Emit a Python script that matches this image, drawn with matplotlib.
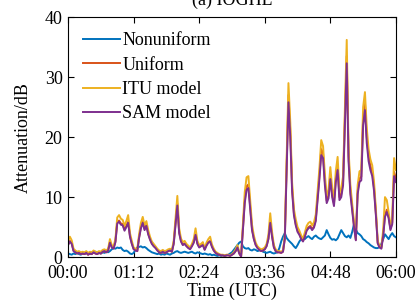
import numpy as np
import matplotlib
matplotlib.use('Agg')
import matplotlib.pyplot as plt

# time in minutes after 00:00 UTC, 2-minute steps
minutes = np.arange(0, 362, 2)

nonuniform = [
  0.6, 0.5, 0.4, 0.6, 0.5, 0.7, 0.5, 0.4, 0.6, 0.5, 0.7, 0.6, 0.5, 0.8, 0.7, 0.9, 0.8, 0.7, 0.6, 0.8,
  0.7, 0.9, 0.8, 1.0, 1.3, 1.5, 1.4, 1.6, 1.5, 1.6, 1.2, 1.0, 1.1, 0.9, 0.6, 0.5, 0.7, 1.2, 1.6, 1.7,
  1.8, 1.6, 1.7, 1.5, 1.2, 1.0, 0.8, 0.7, 0.6, 0.5, 0.6, 0.4, 0.5, 0.4, 0.6, 0.5, 0.4, 0.6, 0.7, 0.9,
  1.0, 0.8, 0.7, 0.8, 0.9, 0.8, 0.7, 0.8, 0.9, 0.7, 0.6, 0.8, 0.7, 0.6, 0.5, 0.6, 0.5, 0.4, 0.5, 0.3,
  0.4, 0.3, 0.2, 0.3, 0.2, 0.3, 0.2, 0.3, 0.4, 0.6, 0.8, 1.2, 1.6, 2.0, 2.4, 2.6, 1.8, 1.5, 1.4, 1.5,
  1.2, 1.1, 1.3, 1.2, 1.0, 1.1, 1.2, 0.9, 0.8, 0.7, 0.8, 0.9, 0.7, 0.6, 0.7, 0.8, 1.5, 2.6, 3.4, 4.0,
  3.2, 2.8, 2.5, 2.2, 1.8, 1.5, 2.0, 2.6, 3.0, 3.2, 3.0, 3.3, 3.5, 3.2, 3.0, 3.4, 3.6, 3.3, 3.1, 3.0,
  3.3, 3.6, 4.5, 3.8, 3.2, 2.9, 3.0, 2.8, 3.1, 3.8, 4.5, 4.0, 3.5, 3.3, 3.6, 3.2, 4.2, 5.5, 4.6, 4.0,
  3.8, 3.5, 3.0, 2.8, 2.5, 2.3, 2.0, 1.8, 1.6, 1.5, 1.5, 1.7, 2.2, 3.0, 3.8, 3.4, 3.0, 3.6, 4.0, 3.5,
  3.3]

uniform = [
  2.1, 2.7, 2.3, 1.1, 0.8, 0.6, 0.7, 0.5, 0.6, 0.5, 0.7, 0.4, 0.6, 0.5, 0.8, 0.6, 0.5, 0.7, 0.6, 0.9,
  1.0, 0.8, 1.1, 2.5, 1.7, 1.5, 2.6, 5.8, 6.1, 5.6, 5.5, 4.6, 5.2, 5.9, 3.5, 2.3, 1.4, 1.2, 1.0, 3.3,
  5.0, 5.9, 4.7, 5.4, 3.9, 3.0, 2.3, 1.9, 1.6, 1.2, 0.8, 0.7, 0.9, 0.7, 0.8, 1.0, 1.1, 0.9, 2.3, 5.7,
  8.9, 4.2, 2.7, 2.1, 2.3, 1.9, 1.6, 1.4, 1.9, 2.5, 3.9, 2.3, 1.7, 1.9, 2.1, 1.3, 2.0, 2.5, 2.7, 1.8,
  1.1, 0.7, 0.5, 0.4, 0.3, 0.3, 0.2, 0.3, 0.3, 0.2, 0.4, 0.6, 1.0, 1.7, 0.6, 0.1, 4.7, 9.4, 11.8, 12.1,
  8.4, 4.7, 3.1, 2.1, 1.6, 1.3, 1.0, 1.1, 1.3, 1.9, 3.1, 6.0, 3.5, 1.7, 1.0, 0.8, 0.8, 0.7, 0.9, 3.1,
  15.2, 27.0, 21.0, 11.5, 7.3, 5.5, 4.4, 3.9, 3.1, 2.7, 3.5, 4.6, 5.0, 5.2, 4.7, 5.1, 6.3, 10.0, 13.6, 18.0,
  17.3, 12.6, 9.4, 10.3, 13.7, 10.5, 8.9, 13.1, 15.3, 10.0, 10.5, 12.6, 23.0, 33.5, 16.8, 11.0, 8.2, 5.2, 2.9, 11.0,
  13.1, 13.4, 23.1, 25.7, 20.0, 16.8, 15.2, 14.2, 11.5, 7.3, 2.4, 1.7, 1.5, 3.7, 7.0, 7.9, 6.8, 4.7, 5.8, 14.2,
  13.1]

itu = [
  2.6, 3.4, 2.8, 1.4, 1.1, 0.9, 1.0, 0.8, 0.9, 0.8, 1.0, 0.7, 0.9, 0.8, 1.1, 0.9, 0.8, 1.0, 0.9, 1.2,
  1.3, 1.1, 1.4, 3.0, 2.0, 1.8, 3.0, 6.6, 7.0, 6.4, 6.2, 5.2, 6.0, 7.0, 4.0, 2.7, 1.6, 1.4, 1.3, 3.8,
  5.7, 6.7, 5.3, 6.0, 4.5, 3.4, 2.6, 2.2, 1.8, 1.4, 1.1, 1.0, 1.2, 1.0, 1.1, 1.3, 1.4, 1.2, 2.7, 6.5,
  10.2, 4.8, 3.1, 2.5, 2.7, 2.2, 1.9, 1.6, 2.2, 3.0, 4.8, 2.7, 2.0, 2.2, 2.5, 1.5, 2.4, 3.0, 3.4, 2.1,
  1.4, 0.9, 0.7, 0.5, 0.4, 0.4, 0.3, 0.4, 0.4, 0.3, 0.5, 0.8, 1.3, 2.0, 0.8, 0.2, 5.4, 10.8, 13.3, 13.5,
  9.5, 5.4, 3.6, 2.4, 1.8, 1.5, 1.3, 1.4, 1.6, 2.2, 3.7, 7.3, 4.2, 2.0, 1.3, 1.0, 1.0, 0.9, 1.1, 3.6,
  16.5, 29.0, 22.5, 12.5, 8.0, 6.3, 5.0, 4.4, 3.6, 3.1, 4.1, 5.2, 5.7, 5.9, 5.3, 5.8, 7.1, 11.0, 14.8, 19.5,
  18.5, 13.8, 10.2, 11.2, 15.0, 11.5, 9.8, 14.3, 16.7, 10.8, 11.5, 13.5, 25.0, 36.2, 18.0, 12.0, 8.9, 5.8, 3.2, 12.0,
  14.3, 14.5, 25.0, 27.5, 21.5, 18.0, 16.3, 15.3, 12.5, 8.0, 2.7, 1.9, 1.7, 4.5, 10.0, 9.5, 7.5, 5.2, 6.5, 16.5,
  14.5]

sam = [
  2.0, 2.6, 2.2, 1.0, 0.8, 0.6, 0.7, 0.5, 0.6, 0.5, 0.7, 0.4, 0.6, 0.5, 0.8, 0.6, 0.5, 0.7, 0.6, 0.9,
  1.0, 0.8, 1.1, 2.4, 1.6, 1.4, 2.5, 5.6, 5.9, 5.4, 5.3, 4.4, 5.0, 5.7, 3.4, 2.2, 1.3, 1.1, 1.0, 3.2,
  4.8, 5.7, 4.5, 5.2, 3.8, 2.9, 2.2, 1.8, 1.5, 1.1, 0.8, 0.7, 0.9, 0.7, 0.8, 1.0, 1.1, 0.9, 2.2, 5.5,
  8.6, 4.0, 2.6, 2.0, 2.2, 1.8, 1.5, 1.3, 1.8, 2.4, 3.7, 2.2, 1.6, 1.8, 2.0, 1.2, 1.9, 2.4, 2.6, 1.7,
  1.1, 0.7, 0.5, 0.4, 0.3, 0.3, 0.2, 0.3, 0.3, 0.2, 0.4, 0.6, 1.0, 1.6, 0.6, 0.1, 4.5, 9.0, 11.2, 11.5,
  8.0, 4.5, 3.0, 2.0, 1.5, 1.2, 1.0, 1.1, 1.3, 1.8, 3.0, 5.7, 3.4, 1.6, 1.0, 0.8, 0.8, 0.7, 0.9, 3.0,
  14.5, 25.8, 20.0, 11.0, 7.0, 5.3, 4.2, 3.7, 3.0, 2.6, 3.4, 4.4, 4.8, 5.0, 4.5, 4.9, 6.0, 9.5, 13.0, 17.0,
  16.5, 12.0, 9.0, 9.8, 13.0, 10.0, 8.5, 12.5, 14.5, 9.5, 10.0, 12.0, 22.0, 32.3, 16.0, 10.5, 7.8, 5.0, 2.8, 10.5,
  12.5, 12.8, 22.0, 24.5, 19.0, 16.0, 14.5, 13.5, 11.0, 7.0, 2.3, 1.6, 1.4, 3.5, 6.7, 7.5, 6.5, 4.5, 5.5, 13.5,
  12.5]

tick_minutes = [0, 72, 144, 216, 288, 360]
tick_labels = ['00:00', '01:12', '02:24', '03:36', '04:48', '06:00']

plt.rcParams['font.family'] = ['Liberation Serif', 'DejaVu Serif']
plt.rcParams['font.size'] = 13

fig = plt.figure(figsize=(4.15, 3.0), dpi=100)
ax = fig.add_axes([0.164, 0.143, 0.790, 0.800])

ax.plot(minutes, nonuniform, color='#0072BD', lw=1.4, label='Nonuniform')
ax.plot(minutes, uniform, color='#D95319', lw=1.4, label='Uniform')
ax.plot(minutes, itu, color='#EDB120', lw=1.4, label='ITU model')
ax.plot(minutes, sam, color='#7E2F8E', lw=1.4, label='SAM model')

ax.set_xlim(0, 360)
ax.set_ylim(0, 40)
ax.set_xticks(tick_minutes)
ax.set_xticklabels(tick_labels)
ax.set_yticks([0, 10, 20, 30, 40])
ax.tick_params(direction='in', top=True, right=True, length=4, width=0.8, labelsize=13)
ax.tick_params(axis='x', pad=6)
ax.tick_params(axis='y', pad=4)
for s in ax.spines.values():
  s.set_linewidth(0.8)

ax.set_xlabel('Time (UTC)', labelpad=0)
ax.set_ylabel('Attenuation/dB', labelpad=9)
fig.text(0.56, 1.0, '(a) IOGHL', ha='center', va='center', fontsize=13)

ax.legend(loc='upper left', frameon=False, handlelength=2.0, handletextpad=0.15,
          labelspacing=0.4, borderaxespad=0.45, fontsize=13)

fig.savefig('out.png', dpi=100)
plt.close(fig)
